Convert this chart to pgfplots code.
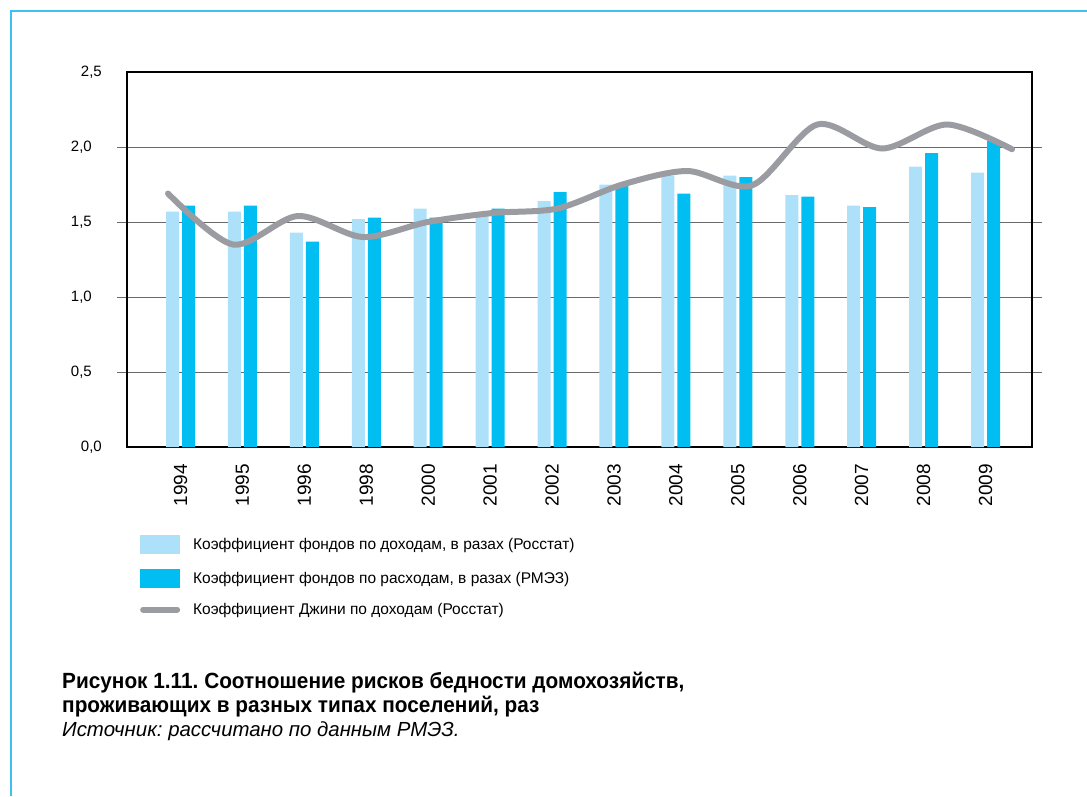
\documentclass[border=0pt]{standalone}
\usepackage{fontspec}
\setmainfont{Liberation Sans}
\newfontfamily\capfont[FakeStretch=0.945]{Liberation Sans}
\usepackage{pgfplots}
\pgfplotsset{compat=1.18}
\definecolor{lightbar}{HTML}{ADE1FA}
\definecolor{darkbar}{HTML}{00BEF2}
\definecolor{gini}{HTML}{9B9CA1}
\definecolor{framec}{HTML}{3FC0F0}
\definecolor{gridc}{HTML}{6A6A6A}

\pgfplotstableread{
idx light dark gini
0  1.57 1.61 1.69
1  1.57 1.61 1.35
2  1.43 1.37 1.54
3  1.52 1.53 1.40
4  1.59 1.53 1.50
5  1.55 1.59 1.56
6  1.64 1.70 1.59
7  1.75 1.75 1.75
8  1.81 1.69 1.84
9  1.81 1.80 1.745
10 1.68 1.67 2.15
11 1.61 1.60 1.99
12 1.87 1.96 2.15
13 1.83 2.04 1.985
}\data

\begin{document}
\frenchspacing
\begin{tikzpicture}[x=1pt,y=1pt]
\useasboundingbox (0,0) rectangle (1087,-796);
\draw[framec, line width=2pt] (11,-796) -- (11,-11) -- (1087,-11);
\begin{axis}[
  at={(127pt,-447pt)}, anchor=south west,
  width=905pt, height=375pt, scale only axis,
  xmin=-0.864, xmax=13.75, ymin=0, ymax=2.5,
  axis line style={black, line width=1.3pt},
  xtick={0,...,13},
  xticklabels={1994,1995,1996,1998,2000,2001,2002,2003,2004,2005,2006,2007,2008,2009},
  x tick style={draw=none},
  xticklabel style={rotate=90, anchor=east, inner sep=0pt, font=\fontsize{19}{19}\selectfont, xshift=-7pt},
  ytick={0.5,1,1.5,2},
  extra y ticks={0,2.5},
  extra y tick style={major tick length=0pt, grid=none},
  ytick pos=both,
  yticklabel pos=left,
  tick align=outside,
  major tick length=10pt,
  y tick style={gridc, line width=1pt},
  ymajorgrids,
  grid style={gridc, line width=1pt},
  yticklabel style={font=\fontsize{15}{15}\selectfont, anchor=east, inner sep=0pt, xshift=-25pt},
  /pgf/number format/.cd, use comma, fixed, fixed zerofill, precision=1, assume math mode=true,
  /pgfplots/.cd,
  legend style={draw=none, fill=none, at={(0.011,-0.2293)}, anchor=north west,
    nodes={inner sep=0pt, anchor=west, font=\fontsize{15.5}{15.5}\selectfont},
    row sep=15pt, column sep=13pt},
  legend cell align=left,
  clip=false,
]
\addplot[ybar, bar width=13pt, bar shift=-8pt, fill=lightbar, draw=none,
  legend image code/.code={\fill[lightbar] (0pt,-9.5pt) rectangle (40pt,9.5pt);}]
  table[x=idx, y=light]{\data};
\addlegendentry{Коэффициент фондов по доходам, в разах (Росстат)}
\addplot[ybar, bar width=13pt, bar shift=8pt, fill=darkbar, draw=none,
  legend image code/.code={\fill[darkbar] (0pt,-9.5pt) rectangle (40pt,9.5pt);}]
  table[x=idx, y=dark]{\data};
\addlegendentry{Коэффициент фондов по расходам, в разах (РМЭЗ)}
\addplot[gini, line width=6pt, line cap=round, smooth, tension=0.5, no marks,
  x filter/.expression={-0.2019+1.0484*x},
  legend image code/.code={\draw[gini, line width=6pt, line cap=round] (3pt,0pt) -- (37pt,0pt);}]
  table[x=idx, y=gini]{\data};
\addlegendentry{Коэффициент Джини по доходам (Росстат)}
\end{axis}
\node[anchor=base west, inner sep=0pt, font=\capfont\bfseries\fontsize{22}{22}\selectfont] at (62,-688) {Рисунок 1.11. Соотношение рисков бедности домохозяйств,};
\node[anchor=base west, inner sep=0pt, font=\capfont\bfseries\fontsize{22}{22}\selectfont] at (62,-712) {проживающих в разных типах поселений, раз};
\node[anchor=base west, inner sep=0pt, font=\itshape\fontsize{20.4}{20.4}\selectfont] at (62,-736) {Источник: рассчитано по данным РМЭЗ.};
\end{tikzpicture}
\end{document}
